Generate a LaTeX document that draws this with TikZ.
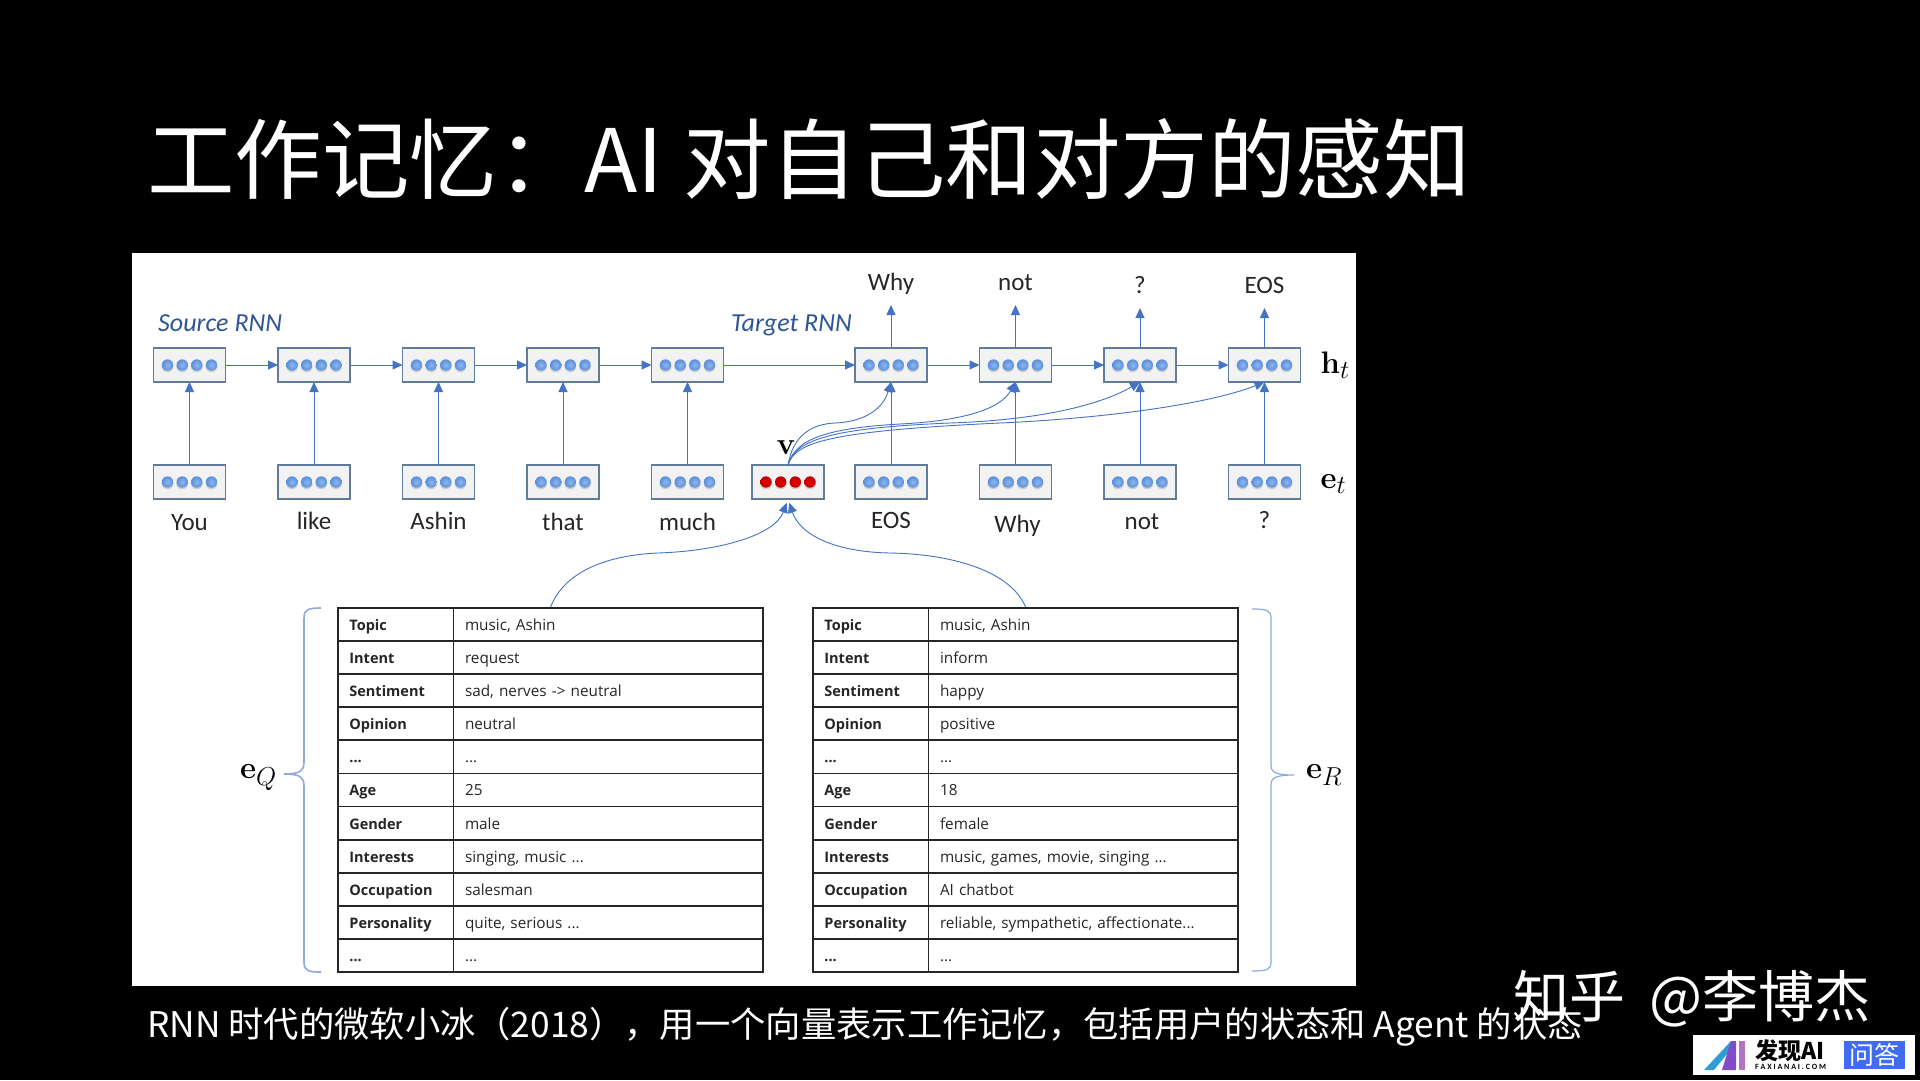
\documentclass[tikz,border=0pt]{standalone}
\usepackage[no-math]{fontspec}
\setmainfont{Carlito}
\newfontfamily\cjk{Noto Sans CJK SC}
\newfontfamily\tablefont{Open Sans}
\usetikzlibrary{arrows.meta, positioning, calc, matrix}

\definecolor{linkblue}{HTML}{4472C4}
\definecolor{titleblue}{HTML}{2F5597}
\definecolor{bracecolor}{HTML}{8FAADC}
\definecolor{cellline}{HTML}{5F7C9A}
\definecolor{cellfill}{HTML}{F2F2F2}
\definecolor{ballin}{HTML}{8DB7EE}
\definecolor{ballout}{HTML}{5B8FDB}
\definecolor{logoblue}{HTML}{3F6CF0}

\newcommand{\sidemath}[1]{\scalebox{1.25}{$#1$}}

\tikzset{
    ballbox/.style n args={2}{draw=cellline, fill=cellfill, rectangle, minimum width=72pt, minimum height=34pt, inner sep=0pt, outer sep=0pt, line width=1.5pt,
        path picture={
            \foreach \dotx in {-22,-7.3,7.3,22} {
                \fill[black!18] ($(path picture bounding box.center)+(\dotx,1.5)$) circle (5.9pt);
                \shade[inner color=#1, outer color=#2] ($(path picture bounding box.center)+(\dotx,0)$) circle (5.7pt);
            }
        }},
    cellbox/.style={ballbox={ballin}{ballout}},
    redbox/.style={ballbox={red!90!black}{red!75!black}},
    word/.style={font=\fontsize{25}{30}\selectfont, inner sep=0pt, text height=18pt, text depth=6pt, text=black!85},
    outword/.style={word, outer ysep=9pt},
    netname/.style={font=\fontsize{26}{30}\selectfont\itshape, text=titleblue, inner sep=0pt, text height=18pt, text depth=6pt},
    sidename/.style={font=\Huge, inner sep=0pt, text=black},
    link/.style={linkblue, line width=1pt, -{Triangle[length=10pt, width=9pt]}},
    curvelink/.style={link, line width=0.9pt},
    bracket/.style={bracecolor, line width=1.6pt},
    infotable/.style={matrix of nodes, inner sep=0pt, outer sep=0pt, row sep=-1.8pt, column sep=-1.8pt,
        nodes={draw=black!85, line width=1.8pt, outer sep=0pt, font=\tablefont\fontsize{15.3}{18}\selectfont, text=black!85, inner ysep=0pt, inner xsep=11.5pt, minimum height=33.1pt, text height=13pt, text depth=1pt, anchor=center, align=left},
        column 1/.style={nodes={text width=92.6pt, font=\tablefont\bfseries\fontsize{14.5}{18}\selectfont}},
        column 2/.style={nodes={text width=286.8pt}}},
}

\begin{document}
\begin{tikzpicture}[x=1pt, y=-1pt]
    \fill[black] (0,0) rectangle (1920,1080);
    \fill[white] (132,253) rectangle (1356,986);

    \node (title) [anchor=west, text=white, inner sep=0pt, font=\cjk\fontsize{87.5}{100}\selectfont] at (147,159) {工作记忆\char"FF1A AI 对自己和对方的感知};

    % source rnn
    \node (hyou) [cellbox] at (189.5,365) {};
    \node (hlike) [cellbox, right=52.5pt of hyou] {};
    \node (hashin) [cellbox, right=52.5pt of hlike] {};
    \node (hthat) [cellbox, right=52.5pt of hashin] {};
    \node (hmuch) [cellbox, right=52.5pt of hthat] {};

    % target rnn
    \node (hwhy) [cellbox, right=131.5pt of hmuch] {};
    \node (hnot) [cellbox, right=52.5pt of hwhy] {};
    \node (hask) [cellbox, right=52.5pt of hnot] {};
    \node (heos) [cellbox, right=52.5pt of hask] {};

    % embedding row
    \node (eyou) [cellbox, below=83pt of hyou] {};
    \node (elike) [cellbox, below=83pt of hlike] {};
    \node (eashin) [cellbox, below=83pt of hashin] {};
    \node (ethat) [cellbox, below=83pt of hthat] {};
    \node (emuch) [cellbox, below=83pt of hmuch] {};
    \node (evec) [redbox, right=28.5pt of emuch] {};
    \node (ewhy) [cellbox, below=83pt of hwhy] {};
    \node (enot) [cellbox, below=83pt of hnot] {};
    \node (eask) [cellbox, below=83pt of hask] {};
    \node (eeos) [cellbox, below=83pt of heos] {};

    % words
    \node (lblyou) [word, below=13pt of eyou] {You};
    \node (lbllike) [word, below=12pt of elike] {like};
    \node (lblashin) [word, below=12pt of eashin] {Ashin};
    \node (lblthat) [word, below=13pt of ethat] {that};
    \node (lblmuch) [word, below=13pt of emuch] {much};
    \node (lbleos) [word, below=11pt of ewhy] {EOS};
    \node (lblwhy) [word, below=15pt of enot, xshift=2pt] {Why};
    \node (lblnot) [word, below=12pt of eask, xshift=2pt] {not};
    \node (lblask) [word, below=11pt of eeos] {?};
    \node (outwhy) [outword, above=43pt of hwhy] {Why};
    \node (outnot) [outword, above=43pt of hnot] {not};
    \node (outask) [outword, above=40pt of hask] {?};
    \node (outeos) [outword, above=40pt of heos] {EOS};

    \node (source) [netname, anchor=west] at (158,325) {Source RNN};
    \node (target) [netname, anchor=west] at (731,325) {Target RNN};
    \node (vname) [sidename, above=10pt of evec, xshift=-2pt] {\sidemath{\mathbf{v}}};
    \node (hname) [sidename, right=20pt of heos] {\sidemath{\mathbf{h}_t}};
    \node (ename) [sidename, right=20pt of eeos, yshift=-2pt] {\sidemath{\mathbf{e}_t}};

    % tables
    \matrix (tableq) [infotable, anchor=north west] at (337,607) {
        Topic & music, Ashin \\
        Intent & request \\
        Sentiment & sad, nerves -> neutral \\
        Opinion & neutral \\
        ... & ... \\
        Age & 25 \\
        Gender & male \\
        Interests & singing, music ... \\
        Occupation & salesman \\
        Personality & quite, serious ... \\
        ... & ... \\
    };
    \matrix (tabler) [infotable, anchor=north west] at (812,607) {
        Topic & music, Ashin \\
        Intent & inform \\
        Sentiment & happy \\
        Opinion & positive \\
        ... & ... \\
        Age & 18 \\
        Gender & female \\
        Interests & music, games, movie, singing ... \\
        Occupation & AI chatbot \\
        Personality & reliable, sympathetic, affectionate... \\
        ... & ... \\
    };

    \node (qname) [sidename, anchor=west] at (240,778) {\sidemath{\mathbf{e}_Q}};
    \node (rname) [sidename, anchor=west] at (1306,775) {\sidemath{\mathbf{e}_R}};

    \draw[bracket] (321,608) .. controls (309,608) and (304,609) .. (304,618) -- (304,762) .. controls (304,771) and (300,774) .. (284,774) .. controls (300,774) and (304,777) .. (304,786) -- (304,962) .. controls (304,971) and (309,972) .. (321,972);
    \draw[bracket, line width=1.2pt] (1252,609) .. controls (1266,609) and (1271,610) .. (1271,618) -- (1271,765) .. controls (1271,772) and (1275,775) .. (1294,775) .. controls (1275,775) and (1271,778) .. (1271,785) -- (1271,962) .. controls (1271,970) and (1266,971) .. (1252,971);

    % recurrent links
    \draw[link] (hyou) -- (hlike);
    \draw[link] (hlike) -- (hashin);
    \draw[link] (hashin) -- (hthat);
    \draw[link] (hthat) -- (hmuch);
    \draw[link] (hmuch) -- (hwhy);
    \draw[link] (hwhy) -- (hnot);
    \draw[link] (hnot) -- (hask);
    \draw[link] (hask) -- (heos);

    \draw[link] (eyou) -- (hyou);
    \draw[link] (elike) -- (hlike);
    \draw[link] (eashin) -- (hashin);
    \draw[link] (ethat) -- (hthat);
    \draw[link] (emuch) -- (hmuch);
    \draw[link] (ewhy) -- (hwhy);
    \draw[link] (enot) -- (hnot);
    \draw[link] (eask) -- (hask);
    \draw[link] (eeos) -- (heos);

    \draw[link] (hwhy) -- (outwhy);
    \draw[link] (hnot) -- (outnot);
    \draw[link] (hask) -- (outask);
    \draw[link] (heos) -- (outeos);

    % state vector into the decoder
    \draw[curvelink] (evec.north) .. controls (793,435) and (812,424) .. (835,423) .. controls (860,422) and (882,412) .. (hwhy.south);
    \draw[curvelink] (evec.north) .. controls (795,438) and (830,428) .. (900,424) .. controls (960,421) and (1000,410) .. (hnot.south);
    \draw[curvelink] (evec.north) .. controls (795,440) and (830,428) .. (950,423) .. controls (1040,420) and (1100,405) .. (hask.south);
    \draw[curvelink] (evec.north) .. controls (795,442) and (830,431) .. (1000,423) .. controls (1130,417) and (1220,400) .. (heos.south);

    \draw[curvelink, shorten >=4pt] (tableq.north) .. controls (565,570) and (610,555) .. (658,553) .. controls (720,551) and (775,535) .. (evec.south);
    \draw[curvelink, shorten >=4pt] (tabler.north) .. controls (1010,570) and (950,554) .. (890,553) .. controls (835,552) and (800,535) .. (evec.south);

    % slide text
    \node (caption) [anchor=west, text=white, inner sep=0pt, font=\cjk\fontsize{35.3}{40}\selectfont] at (147,1027) {RNN 时代的微软小冰\char"FF08 2018\char"FF09 \char"FF0C 用一个向量表示工作记忆\char"FF0C 包括用户的状态和 Agent 的状态};
    \node (credit) [anchor=west, text=white, inner sep=0pt, font=\cjk\fontsize{56}{66}\selectfont] at (1513,999) {知乎\hspace{24pt}@李博杰};

    % logo
    \fill[white] (1693,1035) rectangle (1915,1075);
    \fill[linkblue!70!cyan] (1704,1070) -- (1731,1041) -- (1731,1049) -- (1714,1070) -- cycle;
    \fill[blue!70!red!70] (1722,1070) -- (1731,1041) -- (1736,1041) -- (1736,1070) -- cycle;
    \fill[blue!55!red!55] (1739,1041) rectangle (1745,1070);
    \node (brand) [inner sep=0pt, anchor=west, font=\cjk\bfseries\fontsize{23}{26}\selectfont, text=black] at (1755,1051) {发现AI};
    \node (brandurl) [inner sep=0pt, anchor=west, font=\fontsize{8}{10}\selectfont\bfseries, text=black] at (1755,1067) {F A X I A N A I . C O M};
    \node (askbadge) [fill=logoblue, text=white, inner sep=0pt, minimum width=61pt, minimum height=28pt, font=\cjk\fontsize{25}{28}\selectfont] at (1874.5,1055) {问答};
\end{tikzpicture}
\end{document}
